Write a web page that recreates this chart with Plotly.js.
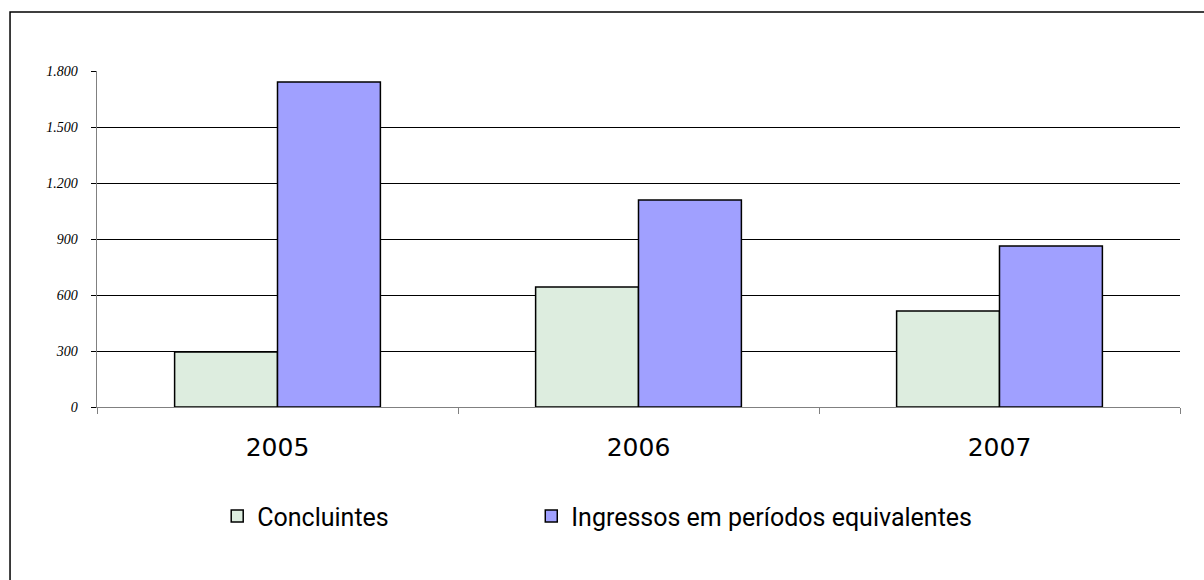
<!DOCTYPE html>
<html><head><meta charset="utf-8">
<script src="https://cdn.plot.ly/plotly-3.0.1.min.js"></script>
<style>html,body{margin:0;padding:0;background:#fff;}#chart{width:1204px;height:580px;}</style>
</head><body><div id="chart"></div>
<script>
const years = ['2005', '2006', '2007'];
const concluintes = [295, 643, 514];
const ingressos = [1741, 1109, 862];
const seriesNames = ['Concluintes', 'Ingressos em períodos equivalentes'];
const yTicks = [0, 300, 600, 900, 1200, 1500, 1800];

const traces = [
  {type: 'bar', x: years, y: concluintes, name: seriesNames[0], legend: 'legend',
   marker: {color: '#DDEDDF', line: {color: '#000', width: 1.5}}},
  {type: 'bar', x: years, y: ingressos, name: seriesNames[1], legend: 'legend2',
   marker: {color: '#A0A0FF', line: {color: '#000', width: 1.5}}}
];

const legendFont = {family: 'Roboto, sans-serif', size: 25, color: '#000'};
const layout = {
  width: 1204, height: 580,
  margin: {l: 97, r: 24, t: 71, b: 173},
  paper_bgcolor: '#fff', plot_bgcolor: '#fff',
  separators: ',.',
  barmode: 'group', bargap: 0.43, bargroupgap: 0,
  showlegend: true,
  legend: {orientation: 'h', x: 0.111, xanchor: 'left', y: -0.325, yanchor: 'middle', font: legendFont},
  legend2: {orientation: 'h', x: 0.401, xanchor: 'left', y: -0.325, yanchor: 'middle', font: legendFont},
  xaxis: {type: 'category', tickson: 'boundaries', ticks: 'outside', ticklen: 6, tickcolor: '#808080',
          showline: true, linecolor: '#808080', linewidth: 1, ticklabelstandoff: 18,
          tickfont: {family: 'DejaVu Sans, sans-serif', size: 25, color: '#000'}, fixedrange: true},
  yaxis: {range: [0, 1800], tickvals: yTicks, ticks: 'outside', ticklen: 5, tickcolor: '#000',
          showline: true, linecolor: '#808080', linewidth: 1.5,
          showgrid: true, gridcolor: '#000', gridwidth: 1, zeroline: false,
          tickformat: ',d', ticklabelstandoff: 10,
          tickfont: {family: 'Liberation Serif, serif', size: 14, style: 'italic', color: '#000'}},
  shapes: [{type: 'rect', xref: 'paper', yref: 'paper', x0: -0.0803, x1: 1.05, y0: -0.6, y1: 1.1756,
            line: {color: '#000', width: 1.5}, fillcolor: 'rgba(0,0,0,0)', layer: 'below'}]
};

Plotly.newPlot('chart', traces, layout, {displayModeBar: false, staticPlot: true});
</script></body></html>
